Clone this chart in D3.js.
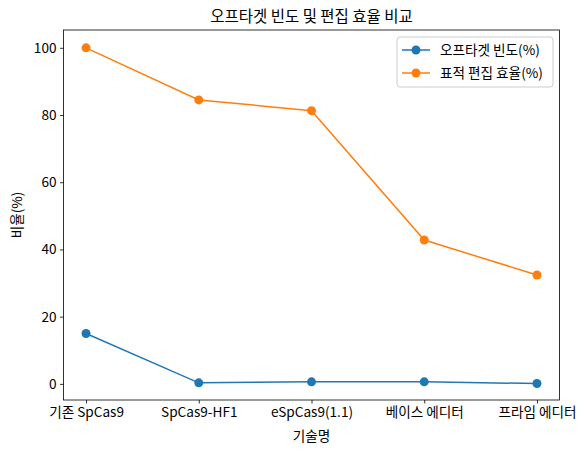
<!DOCTYPE html>
<html><head><meta charset="utf-8">
<script src="https://cdn.jsdelivr.net/npm/d3@7"></script>
<style>body{margin:0;background:#fff}text{font-family:"Noto Sans CJK KR","Noto Sans",sans-serif;fill:#000}</style>
</head><body><svg id="c" width="586" height="455"></svg>
<script>
const categories = ["기존 SpCas9","SpCas9-HF1","eSpCas9(1.1)","베이스 에디터","프라임 에디터"];
const offTarget = [15, 0.3, 0.6, 0.6, 0.1];
const efficiency = [100, 84.5, 81.3, 42.8, 32.4];
const yTicks = [0,20,40,60,80,100];
const seriesNames = ["오프타겟 빈도(%)","표적 편집 효율(%)"];
const colors = ["#1f77b4","#ff7f0e"];

const svg = d3.select("#c");
const L=63.5,R=559.5,T=30,B=400;
const x = d3.scaleLinear().domain([-0.2,4.2]).range([L,R]);
const y = d3.scaleLinear().domain([-4.8,105.3]).range([B,T]);
const FS=13.6;

const gx = svg.append("g").attr("transform",`translate(0,${B})`)
 .call(d3.axisBottom(x).tickValues(d3.range(categories.length)).tickFormat(i=>categories[i]).tickSize(3.5).tickPadding(3.5));
const gy = svg.append("g").attr("transform",`translate(${L},0)`)
 .call(d3.axisLeft(y).tickValues(yTicks).tickSize(3.5).tickPadding(3.5));
[gx,gy].forEach(g=>{g.select(".domain").remove();g.selectAll("text").attr("font-size",FS).attr("font-family",'"Noto Sans CJK KR"');g.selectAll("line").attr("stroke","#000").attr("stroke-width",0.8);});
svg.append("rect").attr("x",L).attr("y",T).attr("width",R-L).attr("height",B-T).attr("fill","none").attr("stroke","#000").attr("stroke-width",0.8);

[offTarget,efficiency].forEach((data,k)=>{
 const line=d3.line().x((d,i)=>x(i)).y(d=>y(d));
 svg.append("path").datum(data).attr("d",line).attr("fill","none").attr("stroke",colors[k]).attr("stroke-width",1.5);
 svg.selectAll(null).data(data).enter().append("circle").attr("cx",(d,i)=>x(i)).attr("cy",d=>y(d)).attr("r",4.5).attr("fill",colors[k]);
});

svg.append("text").attr("x",(L+R)/2).attr("y",T-8).attr("text-anchor","middle").attr("font-size",15.5).text("오프타겟 빈도 및 편집 효율 비교");
svg.append("text").attr("x",(L+R)/2).attr("y",441).attr("text-anchor","middle").attr("font-size",FS).text("기술명");
svg.append("text").attr("transform",`translate(22,${(T+B)/2}) rotate(-90)`).attr("text-anchor","middle").attr("font-size",FS).text("비율(%)");

const lg = svg.append("g");
lg.append("rect").attr("x",397).attr("y",37).attr("width",156).attr("height",50).attr("rx",3).attr("fill","#fff").attr("stroke","#ccc");
seriesNames.forEach((n,k)=>{
 const yy=50+k*23;
 lg.append("line").attr("x1",402).attr("x2",430).attr("y1",yy).attr("y2",yy).attr("stroke",colors[k]).attr("stroke-width",1.5);
 lg.append("circle").attr("cx",416).attr("cy",yy).attr("r",4.5).attr("fill",colors[k]);
 lg.append("text").attr("x",440).attr("y",yy+4.5).attr("font-size",FS).text(n);
});
</script></body></html>
